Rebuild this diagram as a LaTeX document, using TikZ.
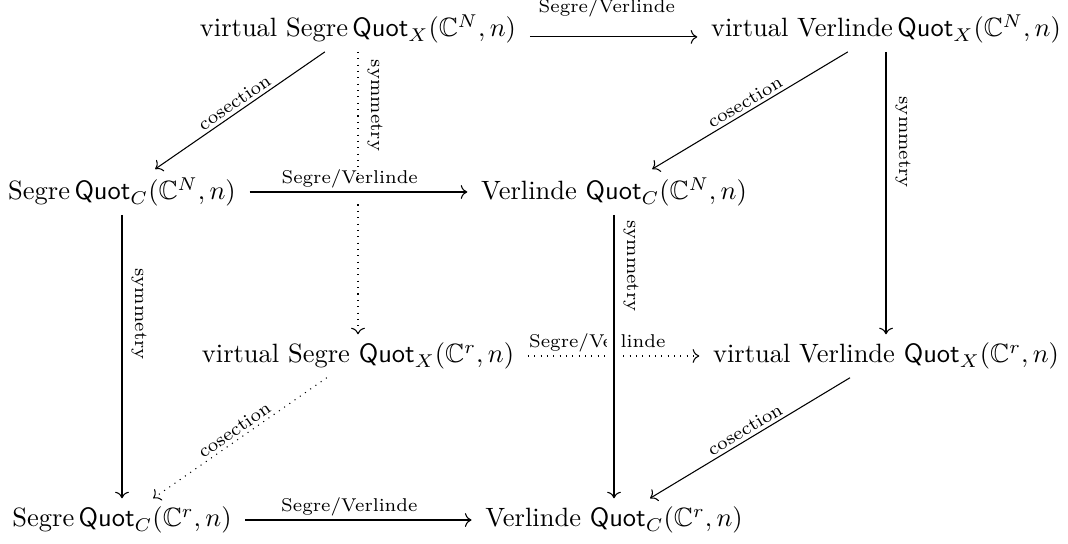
\documentclass[tikz,border=0pt]{standalone}
\usepackage{amssymb}
\usetikzlibrary{arrows.meta}
\begin{document}
\begin{tikzpicture}[x=0.3776pt, y=-0.3776pt,
  obj/.style={inner xsep=5pt, inner ysep=3pt},
  map/.style={->, line width=0.4pt},
  lab/.style={font=\scriptsize, inner sep=1.2pt},
  vlab/.style={font=\scriptsize, rotate=-90, anchor=south},
  over/.style={preaction={draw=white, -, line width=5.5pt}},
]
\useasboundingbox (0,0) rectangle (1068,544);

% objects of the cube
\node[obj] (vSN) at (358,29) {virtual Segre\,$\mathsf{Quot}_X(\mathbb{C}^N,n)$};
\node[obj] (vVN) at (886,29) {virtual Verlinde\,$\mathsf{Quot}_X(\mathbb{C}^N,n)$};
\node[obj] (SN)  at (122,192) {Segre\,$\mathsf{Quot}_C(\mathbb{C}^N,n)$};
\node[obj] (VN)  at (614,192) {Verlinde $\mathsf{Quot}_C(\mathbb{C}^N,n)$};
\node[obj] (vSr) at (358,356) {virtual Segre $\mathsf{Quot}_X(\mathbb{C}^r,n)$};
\node[obj] (vVr) at (886,356) {virtual Verlinde $\mathsf{Quot}_X(\mathbb{C}^r,n)$};
\node[obj] (Sr)  at (122,520) {Segre\,$\mathsf{Quot}_C(\mathbb{C}^r,n)$};
\node[obj] (Vr)  at (614,520) {Verlinde $\mathsf{Quot}_C(\mathbb{C}^r,n)$};

% hidden edges (dotted)
\draw[map, dotted] (vSN) -- node[vlab, pos=0.19] {symmetry} (vSr);
\draw[map, dotted] (vSr) -- node[lab, above, pos=0.405] {Segre/Verlinde} (vVr);
\draw[map, dotted] (vSr) -- node[lab, sloped, above] {cosection} (Sr);

% top and right faces
\draw[map] ([yshift=-3pt]vSN.east) -- node[lab, above=6pt, pos=0.46] {Segre/Verlinde} ([yshift=-3pt]vVN.west);
\draw[map] (vSN) -- node[lab, sloped, above] {cosection} (SN);
\draw[map] (vVN) -- node[lab, sloped, above] {cosection} (VN);
\draw[map] (vVN) -- node[vlab, pos=0.32] {symmetry} (vVr);
\draw[map] (vVr) -- node[lab, sloped, above] {cosection} (Vr);

% front face, crossing over the hidden edges
\draw[map, over] (SN) -- node[lab, above, pos=0.46] {Segre/Verlinde} (VN);
\draw[map] (SN) -- node[vlab, pos=0.35] {symmetry} (Sr);
\draw[map, over] (VN) -- node[vlab, pos=0.18] {symmetry} (Vr);
\draw[map] (Sr) -- node[lab, above, pos=0.46] {Segre/Verlinde} (Vr);
\end{tikzpicture}
\end{document}
